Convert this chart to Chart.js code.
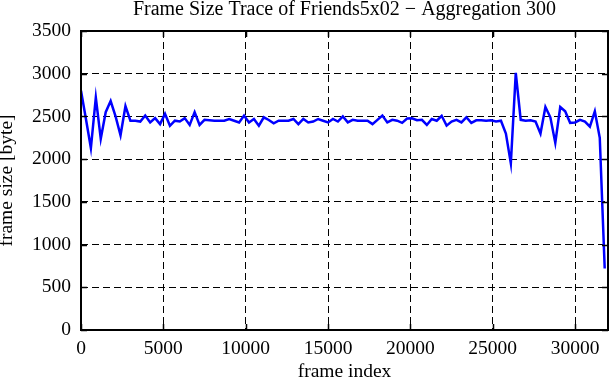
<!DOCTYPE html>
<html>
<head>
<meta charset="utf-8">
<script src="https://cdn.jsdelivr.net/npm/chart.js@4.4.1/dist/chart.umd.min.js"></script>
<style>
  html, body { margin: 0; padding: 0; background: #fff; }
  #wrap { width: 611px; height: 380px; }
</style>
</head>
<body>
<div id="wrap"><canvas id="c" width="611" height="380"></canvas></div>
<script>
const chartTitle = 'Frame Size Trace of Friends5x02 \u2212 Aggregation 300';
const xTitle = 'frame index';
const yTitle = 'frame size [byte]';
const aggregation = 300;
const frameSizes = [
  2800, 2470, 2130, 2720, 2240, 2550, 2680, 2500, 2280, 2620,
  2450, 2450, 2440, 2510, 2430, 2480, 2410, 2530, 2390, 2450,
  2440, 2480, 2400, 2550, 2400, 2460, 2455, 2450, 2450, 2450,
  2470, 2450, 2430, 2510, 2430, 2470, 2392, 2490, 2458, 2420,
  2450, 2450, 2450, 2470, 2410, 2470, 2430, 2440, 2470, 2450,
  2430, 2470, 2440, 2500, 2430, 2460, 2450, 2450, 2450, 2410,
  2460, 2510, 2430, 2460, 2450, 2425, 2475, 2478, 2455, 2460,
  2400, 2470, 2450, 2508, 2392, 2440, 2460, 2430, 2490, 2425,
  2455, 2455, 2450, 2455, 2440, 2450, 2300, 1950, 3010, 2460,
  2450, 2455, 2440, 2300, 2610, 2490, 2190, 2610, 2560, 2425,
  2430, 2460, 2440, 2380, 2560, 2250, 720
];
const xTicks = [0, 5000, 10000, 15000, 20000, 25000, 30000];
const yTicks = [0, 500, 1000, 1500, 2000, 2500, 3000, 3500];
const xMin = 0, xMax = 32000, yMin = 0, yMax = 3500;

const points = frameSizes.map((v, i) => ({ x: i * aggregation, y: v }));
const FONT = 'Liberation Serif, Times New Roman, serif';

const framePlugin = {
  id: 'frame',
  afterDatasetsDraw(chart) {
    const { ctx, chartArea: a, scales } = chart;
    ctx.save();
    ctx.strokeStyle = '#000';
    ctx.lineWidth = 1.5;
    ctx.setLineDash([]);
    const L = 6;
    ctx.beginPath();
    xTicks.forEach(v => {
      const px = Math.round(scales.x.getPixelForValue(v)) + 0.5;
      ctx.moveTo(px, a.bottom); ctx.lineTo(px, a.bottom - L);
      ctx.moveTo(px, a.top); ctx.lineTo(px, a.top + L);
    });
    yTicks.forEach(v => {
      const py = Math.round(scales.y.getPixelForValue(v)) + 0.5;
      ctx.moveTo(a.left, py); ctx.lineTo(a.left + L, py);
      ctx.moveTo(a.right, py); ctx.lineTo(a.right - L, py);
    });
    ctx.stroke();
    ctx.lineWidth = 2;
    ctx.strokeRect(a.left, a.top, a.right - a.left, a.bottom - a.top);
    ctx.restore();
  }
};

new Chart(document.getElementById('c'), {
  type: 'line',
  data: {
    datasets: [{
      data: points,
      borderColor: '#0000ff',
      borderWidth: 2.5,
      pointRadius: 0,
      tension: 0,
      fill: false
    }]
  },
  options: {
    responsive: false,
    animation: false,
    events: [],
    layout: { padding: { left: 0, right: 3, top: 0, bottom: 0 } },
    plugins: {
      legend: { display: false },
      tooltip: { enabled: false },
      title: {
        display: true,
        fullSize: false,
        text: chartTitle,
        color: '#000',
        font: { family: FONT, size: 20, weight: 'normal', lineHeight: 0.7 },
        padding: { top: 2.5, bottom: 14.5 }
      }
    },
    scales: {
      x: {
        type: 'linear',
        min: xMin, max: xMax,
        afterBuildTicks: s => { s.ticks = xTicks.map(v => ({ value: v })); },
        afterFit: s => { s.height = 50; },
        ticks: {
          color: '#000', padding: 7, maxRotation: 0, autoSkip: false,
          font: { family: FONT, size: 19.5 },
          callback: v => String(v)
        },
        grid: { color: '#000', lineWidth: 1, drawTicks: false },
        border: { display: false, dash: [7, 4] },
        title: {
          display: true, text: xTitle, color: '#000',
          font: { family: FONT, size: 19.5, lineHeight: 0.8 },
          padding: 0
        }
      },
      y: {
        type: 'linear',
        min: yMin, max: yMax,
        afterBuildTicks: s => { s.ticks = yTicks.map(v => ({ value: v })); },
        afterFit: s => { s.width = 81; },
        ticks: {
          color: '#000', padding: 10, autoSkip: false,
          font: { family: FONT, size: 19.5 },
          callback: v => String(v)
        },
        grid: { color: '#000', lineWidth: 1, drawTicks: false },
        border: { display: false, dash: [7, 4] },
        title: {
          display: true, text: yTitle, color: '#000',
          font: { family: FONT, size: 19.5, lineHeight: 0.7 },
          padding: 0
        }
      }
    }
  },
  plugins: [framePlugin]
});
</script>
</body>
</html>
